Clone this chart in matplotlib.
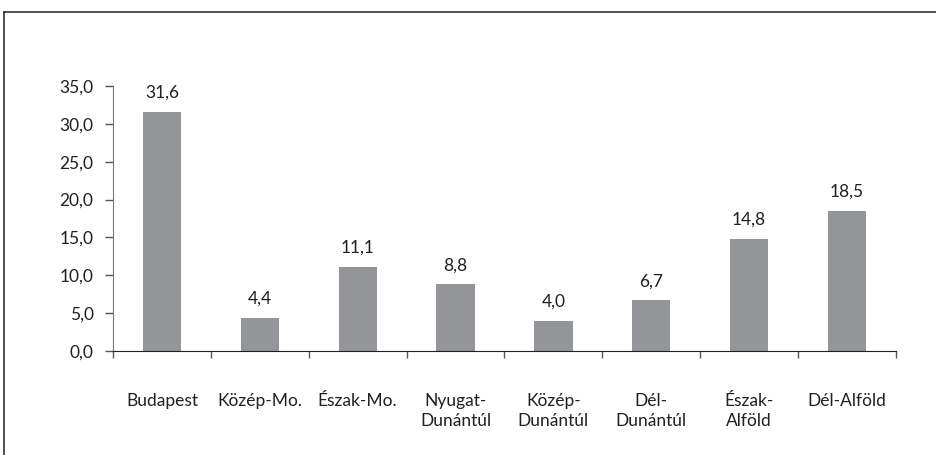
import matplotlib.pyplot as plt
from matplotlib.lines import Line2D
import matplotlib.ticker as ticker

# data
regions = ['Budapest', 'Közép-Mo.', 'Észak-Mo.', 'Nyugat-\nDunántúl',
           'Közép-\nDunántúl', 'Dél-\nDunántúl', 'Észak-\nAlföld', 'Dél-Alföld']
values = [31.6, 4.4, 11.1, 8.8, 4.0, 6.7, 14.8, 18.5]
y_ticks = [0, 5, 10, 15, 20, 25, 30, 35]

plt.rcParams['font.family'] = ['Lato', 'DejaVu Sans']
text_color = '#231f20'
bar_color = '#939598'
fs = 12.5

fig = plt.figure(figsize=(9.37, 4.55), dpi=100)
ax = fig.add_axes([113 / 937, 1 - 351 / 455, (896 - 113) / 937, (351 - 86) / 455])

x = list(range(len(regions)))
ax.bar(x, values, width=0.39, color=bar_color)

# value labels above the bars
for xi, v in zip(x, values):
    ax.annotate(f'{v:.1f}'.replace('.', ','), (xi, v), xytext=(0, 8),
                textcoords='offset points', ha='center', va='bottom',
                fontsize=fs, color=text_color)

ax.set_xlim(-0.5, len(regions) - 0.5)
ax.set_ylim(0, 35)
ax.set_yticks(y_ticks)
ax.yaxis.set_major_formatter(ticker.FuncFormatter(lambda v, p: f'{v:.1f}'.replace('.', ',')))

# labels centred under bars, tick marks at category boundaries
ax.set_xticks(x)
ax.set_xticklabels(regions, linespacing=1.35, va='top')
ax.set_xticks([i - 0.5 for i in range(len(regions) + 1)], minor=True)
ax.tick_params(axis='x', which='major', length=0, pad=30, labelsize=fs, labelcolor=text_color)
ax.tick_params(axis='x', which='minor', length=5, width=1, color='#555555', direction='out')
ax.tick_params(axis='y', length=6, width=1, color='#555555', pad=8, labelsize=fs, labelcolor=text_color)

for side in ['top', 'right']:
    ax.spines[side].set_visible(False)
ax.spines['left'].set_color('#777777')
ax.spines['bottom'].set_color('#231f20')

# frame lines around the figure (top and left only)
fig.add_artist(Line2D([4 / 937, 1.0], [1 - 12 / 455, 1 - 12 / 455], color='#333333', lw=1.2))
fig.add_artist(Line2D([4 / 937, 4 / 937], [0, 1 - 12 / 455], color='#333333', lw=1.2))

fig.savefig('out.png', dpi=100)
